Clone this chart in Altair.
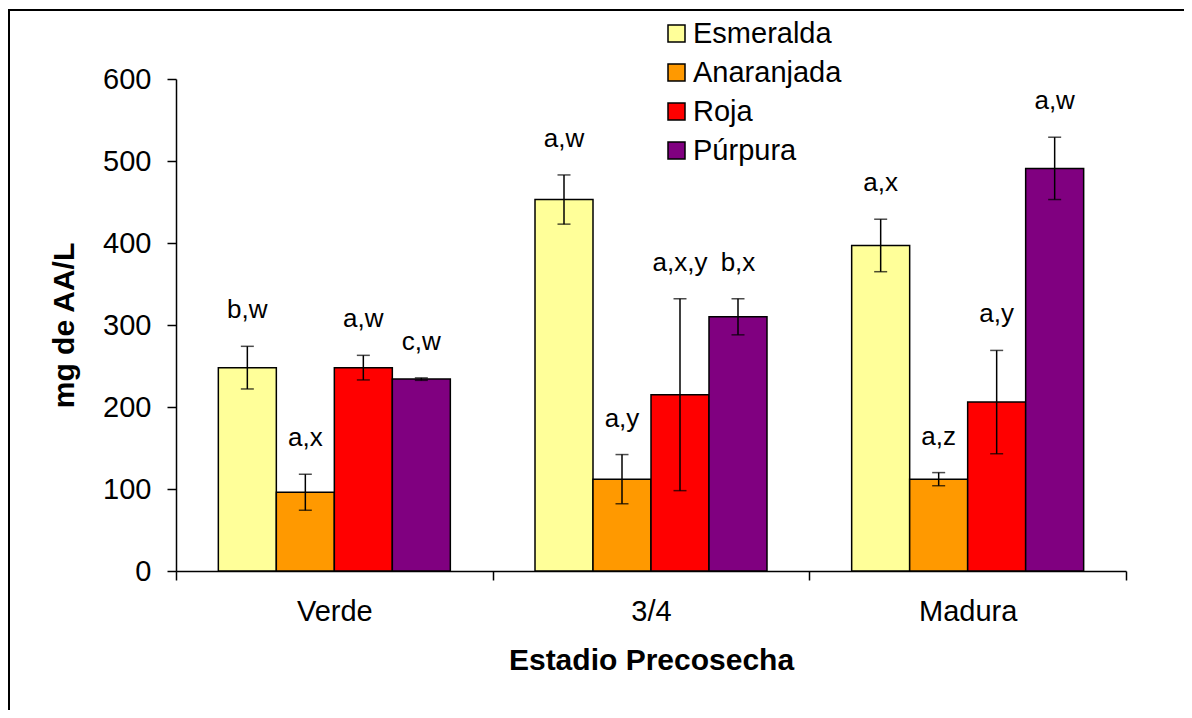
import altair as alt
import pandas as pd

stages = ["Verde", "3/4", "Madura"]
varieties = ["Esmeralda", "Anaranjada", "Roja", "Púrpura"]
colors = ["#FFFF99", "#FF9900", "#FF0000", "#800080"]

esmeralda_mean = [248, 453, 397]
esmeralda_err = [26, 30, 32]
anaranjada_mean = [96, 112, 112]
anaranjada_err = [22, 30, 8]
roja_mean = [248, 215, 206]
roja_err = [15, 117, 63]
purpura_mean = [234, 310, 491]
purpura_err = [1.5, 22, 38]

esmeralda_lbl = ["b,w", "a,w", "a,x"]
anaranjada_lbl = ["a,x", "a,y", "a,z"]
roja_lbl = ["a,w", "a,x,y", "a,y"]
purpura_lbl = ["c,w", "b,x", "a,w"]

means = [esmeralda_mean, anaranjada_mean, roja_mean, purpura_mean]
errs = [esmeralda_err, anaranjada_err, roja_err, purpura_err]
lbls = [esmeralda_lbl, anaranjada_lbl, roja_lbl, purpura_lbl]

rows = []
for vi, v in enumerate(varieties):
    for si, s in enumerate(stages):
        m = means[vi][si]
        e = errs[vi][si]
        rows.append({"stage": s, "variety": v, "mean": m,
                     "lo": m - e, "hi": m + e, "label": lbls[vi][si]})
df = pd.DataFrame(rows)

FONT = "Liberation Sans"

x_enc = alt.X("stage:N", sort=stages,
              scale=alt.Scale(paddingInner=0, paddingOuter=0),
              axis=alt.Axis(title="Estadio Precosecha", labelAngle=0,
                            tickBand="extent", tickSize=9, labelPadding=17,
                            titlePadding=19, labelFontSize=29,
                            titleFontSize=30, titleFontWeight="bold"))
xo_enc = alt.XOffset("variety:N", sort=varieties,
                     scale=alt.Scale(paddingInner=0, paddingOuter=0.73))
y_scale = alt.Scale(domain=[0, 600], nice=False)

base = alt.Chart(df)

bars = base.mark_bar(stroke="black", strokeWidth=1.5).encode(
    x=x_enc,
    xOffset=xo_enc,
    y=alt.Y("mean:Q", scale=y_scale,
            axis=alt.Axis(title="mg de AA/L", values=[0, 100, 200, 300, 400, 500, 600],
                          tickSize=9, labelPadding=16, labelFontSize=29,
                          titleFontSize=30, titleFontWeight="bold",
                          titlePadding=23, grid=False)),
    color=alt.Color("variety:N", sort=varieties,
                    scale=alt.Scale(domain=varieties, range=colors),
                    legend=alt.Legend(title=None, orient="none", legendX=486, legendY=-60,
                                      symbolType="square", symbolSize=289,
                                      symbolStrokeColor="black", symbolStrokeWidth=1.5,
                                      symbolOpacity=1,
                                      labelFontSize=29, rowPadding=9, labelOffset=2)),
)

rule = base.mark_rule(color="black", strokeWidth=1.5).encode(
    x=alt.X("stage:N", sort=stages), xOffset=alt.XOffset("variety:N", sort=varieties),
    y=alt.Y("lo:Q"), y2="hi:Q")

cap_lo = base.mark_tick(color="black", thickness=1.5, size=13).encode(
    x=alt.X("stage:N", sort=stages), xOffset=alt.XOffset("variety:N", sort=varieties),
    y=alt.Y("lo:Q"))
cap_hi = base.mark_tick(color="black", thickness=1.5, size=13).encode(
    x=alt.X("stage:N", sort=stages), xOffset=alt.XOffset("variety:N", sort=varieties),
    y=alt.Y("hi:Q"))

labels = base.mark_text(fontSize=26, dy=-36, baseline="middle", color="black").encode(
    x=alt.X("stage:N", sort=stages), xOffset=alt.XOffset("variety:N", sort=varieties),
    y=alt.Y("hi:Q"), text="label:N")

frame = alt.Chart(pd.DataFrame({"a": [0]})).mark_rect(
    fillOpacity=0, stroke="black", strokeWidth=2).encode(
    x=alt.value(-167), x2=alt.value(1100), y=alt.value(-69), y2=alt.value(720))

chart = alt.layer(bars, rule, cap_lo, cap_hi, labels, frame).properties(
    width=950, height=492,
    autosize=alt.AutoSizeParams(type="none"),
    padding={"left": 168, "top": 71, "right": 58, "bottom": 139},
).configure(font=FONT).configure_view(stroke=None).configure_axis(
    domainColor="black", tickColor="black", domainWidth=1.5, tickWidth=1.5,
    labelColor="black", titleColor="black", labelFont=FONT, titleFont=FONT
).configure_legend(labelFont=FONT, labelColor="black")

chart.save("out.html", embed_options={"renderer": "svg", "actions": False})
